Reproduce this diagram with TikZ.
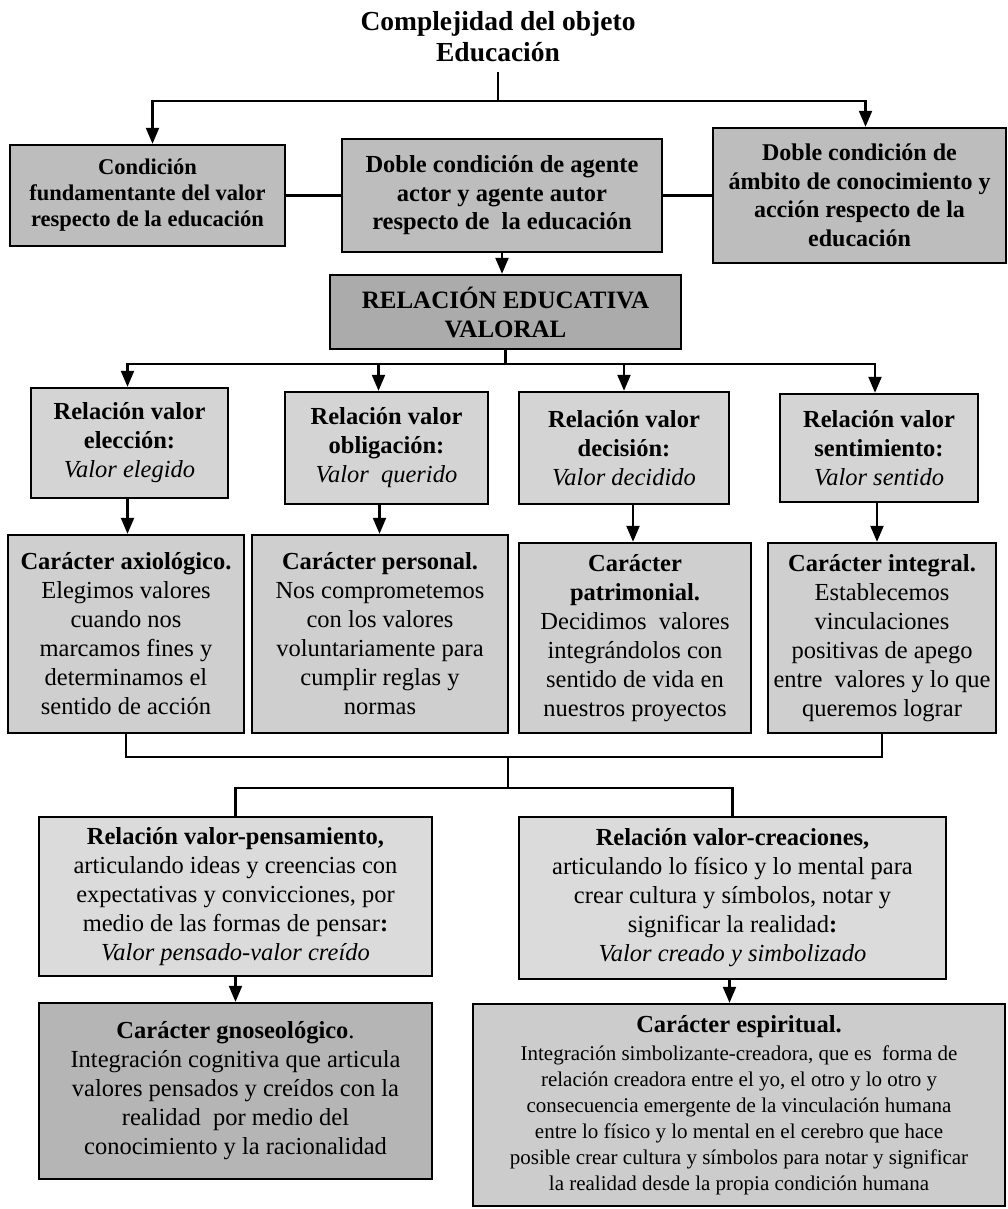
\documentclass[tikz,border=0pt]{standalone}
\usepackage{fontspec}
\setmainfont{Liberation Serif}
\usetikzlibrary{arrows.meta}
\definecolor{ctop}{gray}{0.74}
\definecolor{crel}{gray}{0.67}
\definecolor{cmid}{gray}{0.83}
\definecolor{ccar}{gray}{0.81}
\definecolor{cef}{gray}{0.86}
\definecolor{cg}{gray}{0.71}
\definecolor{ch}{gray}{0.80}
\tikzset{
  bx/.style={draw, line width=2.4pt, align=center, inner sep=0pt,
    font=\fontsize{24.5}{29}\selectfont},
  ln/.style={line width=2.2pt},
  arr/.style={line width=2.2pt, -{Triangle[length=16pt,width=13pt]}},
}
\begin{document}
\begin{tikzpicture}[x=1pt,y=-1pt]
\useasboundingbox (0,0) rectangle (1008,1209);

\node[align=center, inner sep=0pt, font=\fontsize{27.5}{31}\selectfont\bfseries] (title) at (498,37)
  {Complejidad del objeto\\Educación};

\node[bx, fill=ctop, minimum width=275, minimum height=101, font=\fontsize{22.5}{26}\selectfont\bfseries] (L) at (147.5,195.5)
  {Condición\\fundamentante del valor\\respecto de la educación};
\node[bx, fill=ctop, minimum width=320, minimum height=113, font=\fontsize{24.5}{28.5}\selectfont\bfseries] (C0) at (502,195.5)
  {Doble condición de agente\\actor y agente autor\\respecto de\ \ la educación};
\node[bx, fill=ctop, minimum width=293, minimum height=135, font=\fontsize{24}{28.5}\selectfont\bfseries] (R) at (859.5,195.5)
  {Doble condición de\\ámbito de conocimiento y\\acción respecto de la\\educación};

\node[bx, fill=crel, minimum width=351, minimum height=74, font=\fontsize{25}{29}\selectfont\bfseries] (REL) at (505.5,312)
  {RELACIÓN EDUCATIVA\\VALORAL};

\node[bx, fill=cmid, minimum width=197, minimum height=110] (M1) at (129.5,443)
  {\bfseries Relación valor\\\bfseries elección:\\\itshape Valor elegido};
\node[bx, fill=cmid, minimum width=203, minimum height=112] (M2) at (386.5,448)
  {\bfseries Relación valor\\\bfseries obligación:\\\itshape Valor\ \ querido};
\node[bx, fill=cmid, minimum width=210, minimum height=112] (M3) at (624,448)
  {\bfseries Relación valor\\\bfseries decisión:\\\itshape Valor decidido};
\node[bx, fill=cmid, minimum width=198, minimum height=108] (M4) at (879,448)
  {\bfseries Relación valor\\\bfseries sentimiento:\\\itshape Valor sentido};

\node[bx, fill=ccar, minimum width=236, minimum height=198] (A) at (126,634)
  {\bfseries Carácter axiológico.\\Elegimos valores\\cuando nos\\marcamos fines y\\determinamos el\\sentido de acción};
\node[bx, fill=ccar, minimum width=256, minimum height=198] (B) at (380,634)
  {\bfseries Carácter personal.\\Nos comprometemos\\con los valores\\voluntariamente para\\cumplir reglas y\\normas};
\node[bx, fill=ccar, minimum width=232, minimum height=190] (C) at (635,638)
  {\bfseries Carácter\\\bfseries patrimonial.\\Decidimos\ \ valores\\integrándolos con\\sentido de vida en\\nuestros proyectos};
\node[bx, fill=ccar, minimum width=228, minimum height=190] (D) at (882,638)
  {\bfseries Carácter integral.\\Establecemos\\vinculaciones\\positivas de apego\\entre\ \ valores y lo que\\queremos lograr};

\node[bx, fill=cef, minimum width=393, minimum height=159] (E) at (235.5,896.5)
  {\bfseries Relación valor-pensamiento,\\articulando ideas y creencias con\\expectativas y convicciones, por\\medio de las formas de pensar\textbf{:}\\\itshape Valor pensado-valor creído};
\node[bx, fill=cef, minimum width=427, minimum height=162] (F) at (732.5,898)
  {\bfseries Relación valor-creaciones,\\articulando lo físico y lo mental para\\crear cultura y símbolos, notar y\\significar la realidad\textbf{:}\\\itshape Valor creado y simbolizado};

\node[bx, fill=cg, minimum width=393, minimum height=176] (G) at (235.5,1091)
  {\textbf{Carácter gnoseológico}.\\Integración cognitiva que articula\\valores pensados y creídos con la\\realidad\ \ por medio del\\conocimiento y la racionalidad};
\node[bx, fill=ch, minimum width=532, minimum height=202, font=\fontsize{21}{26}\selectfont] (H) at (739,1105)
  {\fontsize{24.5}{29}\selectfont\bfseries Carácter espiritual.\\[2pt]
   Integración simbolizante-creadora, que es\ \ forma de\\
   relación creadora entre el yo, el otro y lo otro y\\
   consecuencia emergente de la vinculación humana\\
   entre lo físico y lo mental en el cerebro que hace\\
   posible crear cultura y símbolos para notar y significar\\
   la realidad desde la propia condición humana};

% connectors
\coordinate (j0) at (498,101);
\draw[ln] (title.south) ++(0,10) -- (j0);
\draw[arr] (j0) -| ([xshift=5pt]L.north);
\draw[arr] (j0) -| ([xshift=6pt]R.north);
\draw[ln] (L.east) -- (C0.west);
\draw[ln] (C0.east) -- (R.west);
\draw[arr] (C0.south) -- (C0.south |- REL.north);

\coordinate (j1) at (505.5,364);
\draw[ln] (REL.south) -- (j1);
\draw[arr] (j1) -| ([xshift=-2pt]M1.north);
\draw[arr] (j1) -| ([xshift=-8pt]M2.north);
\draw[arr] (j1) -| (M3.north);
\draw[arr] (j1) -| ([xshift=-4pt]M4.north);

\draw[arr] ([xshift=-2pt]M1.south) -- ([xshift=-2pt]M1.south |- A.north);
\draw[arr] ([xshift=-7pt]M2.south) -- ([xshift=-7pt]M2.south |- B.north);
\draw[arr] ([xshift=9pt]M3.south) -- ([xshift=9pt]M3.south |- C.north);
\draw[arr] ([xshift=-2pt]M4.south) -- ([xshift=-2pt]M4.south |- D.north);

\coordinate (j2) at (508,757);
\coordinate (j3) at (508,788);
\draw[ln] (A.south) |- (j2) -| (D.south);
\draw[ln] (j2) -- (j3);
\draw[ln] (j3) -| (E.north);
\draw[ln] (j3) -| (F.north);

\draw[arr] (E.south) -- (E.south |- G.north);
\draw[arr] ([xshift=-3pt]F.south) -- ([xshift=-3pt]F.south |- H.north);
\end{tikzpicture}
\end{document}
